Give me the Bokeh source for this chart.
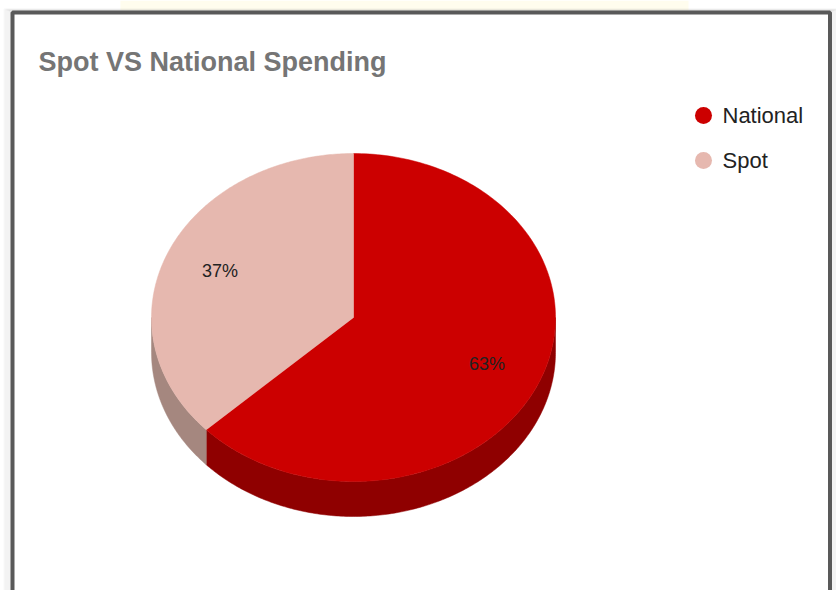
import numpy as np
from bokeh.plotting import figure
from bokeh.models import Range1d, ColumnDataSource
from bokeh.embed import file_html
from bokeh.resources import INLINE
from bokeh.core.properties import value

# ---- data ----
categories = ["National", "Spot"]
shares = [63, 37]
top_colors = ["#cc0000", "#e6b8af"]
side_colors = ["#8f0000", "#a5877f"]
title_text = "Spot VS National Spending"

# ---- layout ----
W, H = 836, 590
cx, cy, rx, ry, depth = 353, 317, 202, 164, 35
FONT = "Liberation Sans"

p = figure(width=W, height=H, x_range=Range1d(0, W), y_range=Range1d(H, 0),
           output_backend="svg", toolbar_location=None, min_border=0,
           x_axis_location=None, y_axis_location=None)
p.grid.visible = False
p.outline_line_color = None
p.background_fill_color = "white"
p.border_fill_color = "white"

# backdrop strip and frame shadow
p.quad(left=[120], right=[688], top=[0], bottom=[10], fill_color="#fffdee", line_color=None)
for i in range(1, 9):
    p.quad(left=[12 - i], right=[829.5 + i], top=[12 - i * 0.4], bottom=[620],
           fill_color=None, line_color="#808080", line_alpha=0.05, line_width=2)
p.quad(left=[12], right=[829.5], top=[12], bottom=[620], fill_color="white",
       line_color="#595959", line_width=4)

# ---- pie geometry ----
fr = np.array(shares, dtype=float) / sum(shares)
ends = np.cumsum(fr) * 360.0
starts = np.concatenate([[0.0], ends[:-1]])


def pts(a0, a1, dy=0.0, n=200):
    a = np.radians(np.linspace(a0, a1, n))
    return list(cx + rx * np.sin(a)), list(cy - ry * np.cos(a) + dy)

side_xs, side_ys, side_c = [], [], []
for s, e, c in zip(starts, ends, side_colors):
    a0, a1 = max(s, 90.0), min(e, 270.0)
    if a0 < a1:
        tx, ty = pts(a0, a1)
        bx, by = pts(a1, a0, depth)
        side_xs.append(tx + bx)
        side_ys.append(ty + by)
        side_c.append(c)
p.patches(side_xs, side_ys, fill_color=side_c, line_color=side_c, line_width=0.5)

top_xs, top_ys = [], []
for s, e in zip(starts, ends):
    ax, ay = pts(s, e)
    top_xs.append([cx] + ax)
    top_ys.append([cy] + ay)
p.patches(top_xs, top_ys, fill_color=top_colors, line_color=top_colors, line_width=0.5)

# slice labels
mid = np.radians((starts + ends) / 2)
f = 0.72
lab = ColumnDataSource(dict(
    x=cx + rx * f * np.sin(mid),
    y=cy - ry * f * np.cos(mid),
    t=[f"{v / sum(shares) * 100:.0f}%" for v in shares]))
p.text(x="x", y="y", text="t", source=lab, text_align="center", text_baseline="middle",
       text_font=value(FONT), text_font_size="18px", text_color="#222222")

# title
p.text(x=[38], y=[61], text=[title_text], text_font=value(FONT), text_font_style="bold",
       text_font_size="27px", text_color="#757575", text_baseline="middle")

# legend
ly = [115 + 45 * i for i in range(len(categories))]
p.scatter(x=[703] * len(categories), y=ly, size=17, marker="circle",
          fill_color=top_colors, line_color=None)
p.text(x=[722] * len(categories), y=ly, text=categories,
       text_font=value(FONT), text_font_size="22px", text_color="#222222",
       text_baseline="middle")

open("out.html", "w").write(file_html(p, INLINE))
